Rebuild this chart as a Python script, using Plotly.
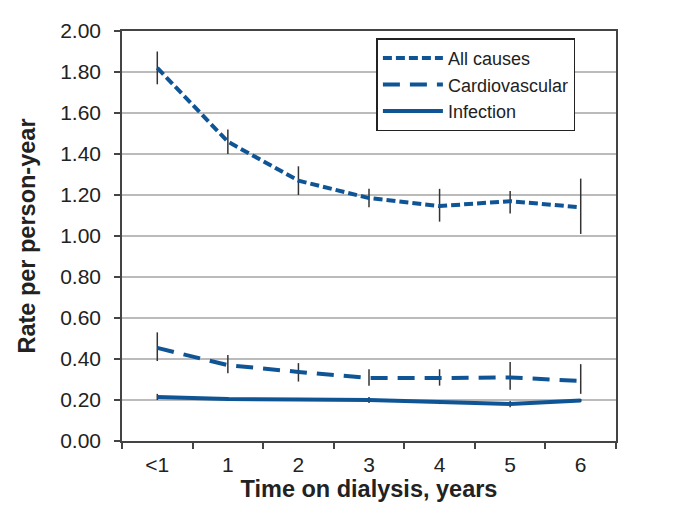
import plotly.graph_objects as go

categories = ["<1", "1", "2", "3", "4", "5", "6"]

all_causes = [1.82, 1.46, 1.27, 1.185, 1.146, 1.17, 1.14]
all_hi = [1.90, 1.52, 1.34, 1.23, 1.23, 1.22, 1.28]
all_lo = [1.74, 1.40, 1.20, 1.14, 1.07, 1.11, 1.01]

cardio = [0.454, 0.37, 0.337, 0.307, 0.307, 0.31, 0.293]
cardio_hi = [0.53, 0.42, 0.38, 0.35, 0.35, 0.385, 0.375]
cardio_lo = [0.39, 0.33, 0.29, 0.27, 0.27, 0.25, 0.23]

infection = [0.215, 0.205, 0.203, 0.200, 0.19, 0.18, 0.197]
inf_hi = [0.23, 0.215, 0.21, 0.215, 0.20, 0.195, 0.205]
inf_lo = [0.20, 0.195, 0.195, 0.185, 0.18, 0.165, 0.19]

yticks = [0.0, 0.2, 0.4, 0.6, 0.8, 1.0, 1.2, 1.4, 1.6, 1.8, 2.0]

blue = "#0f5596"

def err(vals, hi, lo):
    return dict(type="data", symmetric=False,
                array=[h - v for h, v in zip(hi, vals)],
                arrayminus=[v - l for v, l in zip(vals, lo)],
                color="#333333", thickness=1.5, width=0)

fig = go.Figure()
fig.add_trace(go.Scatter(x=categories, y=all_causes, name="All causes", mode="lines",
                         line=dict(color=blue, width=4, dash="9px,4px"),
                         error_y=err(all_causes, all_hi, all_lo)))
fig.add_trace(go.Scatter(x=categories, y=cardio, name="Cardiovascular", mode="lines",
                         line=dict(color=blue, width=4, dash="17px,10px"),
                         error_y=err(cardio, cardio_hi, cardio_lo)))
fig.add_trace(go.Scatter(x=categories, y=infection, name="Infection", mode="lines",
                         line=dict(color=blue, width=4),
                         error_y=err(infection, inf_hi, inf_lo)))

font = "Liberation Sans, Arial, sans-serif"
fig.update_layout(
    width=673, height=522,
    margin=dict(l=114, r=65, t=23, b=89),
    paper_bgcolor="white", plot_bgcolor="white",
    font=dict(family=font, size=21, color="#222222"),
    showlegend=True,
    legend=dict(x=0.515, y=0.982, xanchor="left", yanchor="top",
                bordercolor="#222222", borderwidth=1.5, bgcolor="white",
                font=dict(size=18), tracegroupgap=0, itemwidth=60),
    xaxis=dict(type="category", range=[-0.5, 6.5], tickson="boundaries",
               ticks="outside", ticklen=6, tickcolor="#444444", tickwidth=1.5,
               showline=True, linecolor="#444444", linewidth=1.5, mirror=True,
               showgrid=False, zeroline=False, ticklabelstandoff=4,
               title=dict(text="<b>Time on dialysis, years</b>", font=dict(size=23.5), standoff=4)),
    yaxis=dict(range=[0, 2.0], tickvals=yticks, tickformat=".2f",
               ticks="outside", ticklen=6, tickcolor="#444444", tickwidth=1.5,
               showline=True, linecolor="#444444", linewidth=1.5, mirror=True,
               showgrid=True, gridcolor="#bbbbbb", gridwidth=1.5, zeroline=False,
               ticklabelstandoff=9,
               title=dict(text="<b>Rate per person-year</b>", font=dict(size=23.5), standoff=18)),
)

fig.write_html("out.html")
